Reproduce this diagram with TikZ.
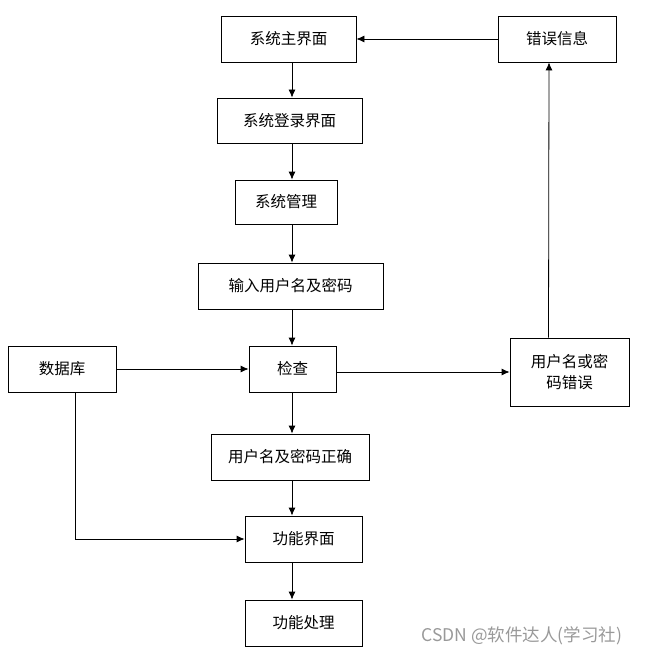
\documentclass[tikz,border=0pt]{standalone}
\usepackage{fontspec}
\setmainfont{Noto Sans CJK SC}
\usetikzlibrary{arrows.meta}
\begin{document}
\begin{tikzpicture}[x=1pt,y=-1pt,
    box/.style = {draw, line width=0.8pt, inner sep=0pt, minimum height=46pt, align=center, font=\fontsize{15.5}{21}\selectfont},
    arr/.style = {line width=0.8pt, -{Latex[length=8pt,width=7pt]}}]
    \useasboundingbox (0,0) rectangle (647,658);
    \node[box, minimum width=135pt] (main) at (288.5,39) {系统主界面};
    \node[box, minimum width=118pt] (err) at (557,39) {错误信息};
    \node[box, minimum width=145pt, minimum height=45pt] (login) at (289.5,120.5) {系统登录界面};
    \node[box, minimum width=102pt, minimum height=44pt] (manage) at (286,202) {系统管理};
    \node[box, minimum width=185pt] (input) at (290.5,286) {输入用户名及密码};
    \node[box, minimum width=87pt] (check) at (292.5,369) {检查};
    \node[box, minimum width=108pt] (db) at (62,369) {数据库};
    \node[box, minimum width=119pt, minimum height=68pt] (wrong) at (569.5,372) {用户名或密\\码错误};
    \node[box, minimum width=158pt] (right) at (290,457) {用户名及密码正确};
    \node[box, minimum width=117pt] (func) at (303.5,539) {功能界面};
    \node[box, minimum width=117pt] (proc) at (303.5,623) {功能处理};
    \node[text=black!40, font=\fontsize{17.5}{20}\selectfont] (mark) at (522,636) {CSDN @软件达人(学习社)};

    \coordinate (col) at (292,0);
    \draw[arr] (main.south -| col) -- (login.north -| col);
    \draw[arr] (login.south -| col) -- (manage.north -| col);
    \draw[arr] (manage.south -| col) -- (input.north -| col);
    \draw[arr] (input.south -| col) -- (check.north -| col);
    \draw[arr] (check.south -| col) -- (right.north -| col);
    \draw[arr] (right.south -| col) -- (func.north -| col);
    \draw[arr] (func.south -| col) -- (proc.north -| col);
    \draw[arr] (db.east) -- (check.west);
    \draw[arr] (check.east |- wrong.west) -- (wrong.west);
    \draw[arr] ([xshift=-21pt]wrong.north) -- ([xshift=-8pt]err.south);
    \draw[arr] (err.west) -- (main.east);
    \draw[arr] ([xshift=13pt]db.south) |- (func.west);
\end{tikzpicture}
\end{document}
